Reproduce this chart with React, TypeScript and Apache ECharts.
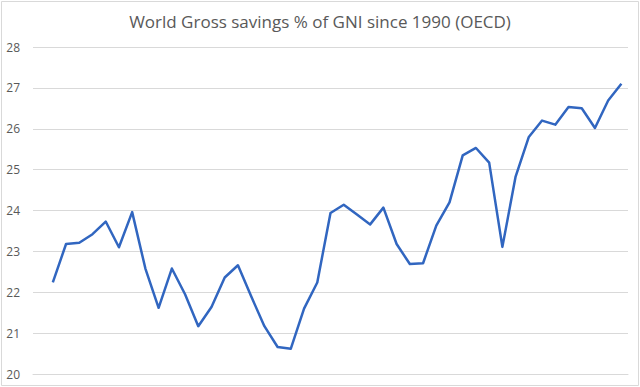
import React, { useEffect, useRef } from "react";
import * as echarts from "echarts";

const title = "World Gross savings % of GNI since 1990 (OECD)";
// 45 category slots; the first one is empty in the reference
const categories: string[] = Array.from({ length: 45 }, (_, i) => String(i));
const savings: (number | null)[] = [
  null,
  22.24, 23.18, 23.21, 23.42, 23.73, 23.1, 23.96, 22.58, 21.62, 22.58,
  21.95, 21.17, 21.64, 22.36, 22.66, 21.9, 21.17, 20.66, 20.62, 21.6,
  22.24, 23.94, 24.14, 23.9, 23.66, 24.07, 23.18, 22.69, 22.71, 23.63,
  24.2, 25.35, 25.53, 25.17, 23.11, 24.83, 25.8, 26.2, 26.1, 26.53,
  26.5, 26.02, 26.69, 27.1,
];
const yMin = 20;
const yMax = 28;
const yStep = 1;

export default function App() {
  const ref = useRef<HTMLDivElement>(null);
  useEffect(() => {
    if (!ref.current) return;
    const chart = echarts.init(ref.current, undefined, { renderer: "svg" });
    chart.setOption({
      animation: false,
      backgroundColor: "#ffffff",
      title: {
        text: title,
        left: "center",
        top: 8,
        textStyle: {
          fontFamily: "Open Sans",
          fontSize: 17,
          fontWeight: "normal",
          color: "#595959",
        },
      },
      grid: { left: 33, right: 12, top: 47, bottom: 13, containLabel: false },
      xAxis: {
        type: "category",
        data: categories,
        boundaryGap: true,
        axisLine: { show: true, lineStyle: { color: "#d9d9d9", width: 1 } },
        axisTick: { show: false },
        axisLabel: { show: false },
        splitLine: { show: false },
      },
      yAxis: {
        type: "value",
        min: yMin,
        max: yMax,
        interval: yStep,
        axisLine: { show: false },
        axisTick: { show: false },
        axisLabel: {
          color: "#595959",
          fontFamily: "Open Sans",
          fontSize: 12,
          margin: 13,
        },
        splitLine: { lineStyle: { color: "#d9d9d9", width: 1 } },
      },
      series: [
        {
          type: "line",
          data: savings,
          showSymbol: false,
          symbol: "none",
          connectNulls: false,
          lineStyle: { color: "#3166C0", width: 2.5, join: "round" },
        },
      ],
      graphic: [
        {
          type: "rect",
          shape: { x: 1.5, y: 1.5, width: 637, height: 384 },
          style: { fill: "none", stroke: "#d9d9d9", lineWidth: 1 },
          silent: true,
        },
      ],
    });
    return () => chart.dispose();
  }, []);
  return (
    <div style={{ position: "absolute", left: 0, top: 0, width: 640, height: 387 }}>
      <div ref={ref} style={{ width: 640, height: 387 }} />
    </div>
  );
}
